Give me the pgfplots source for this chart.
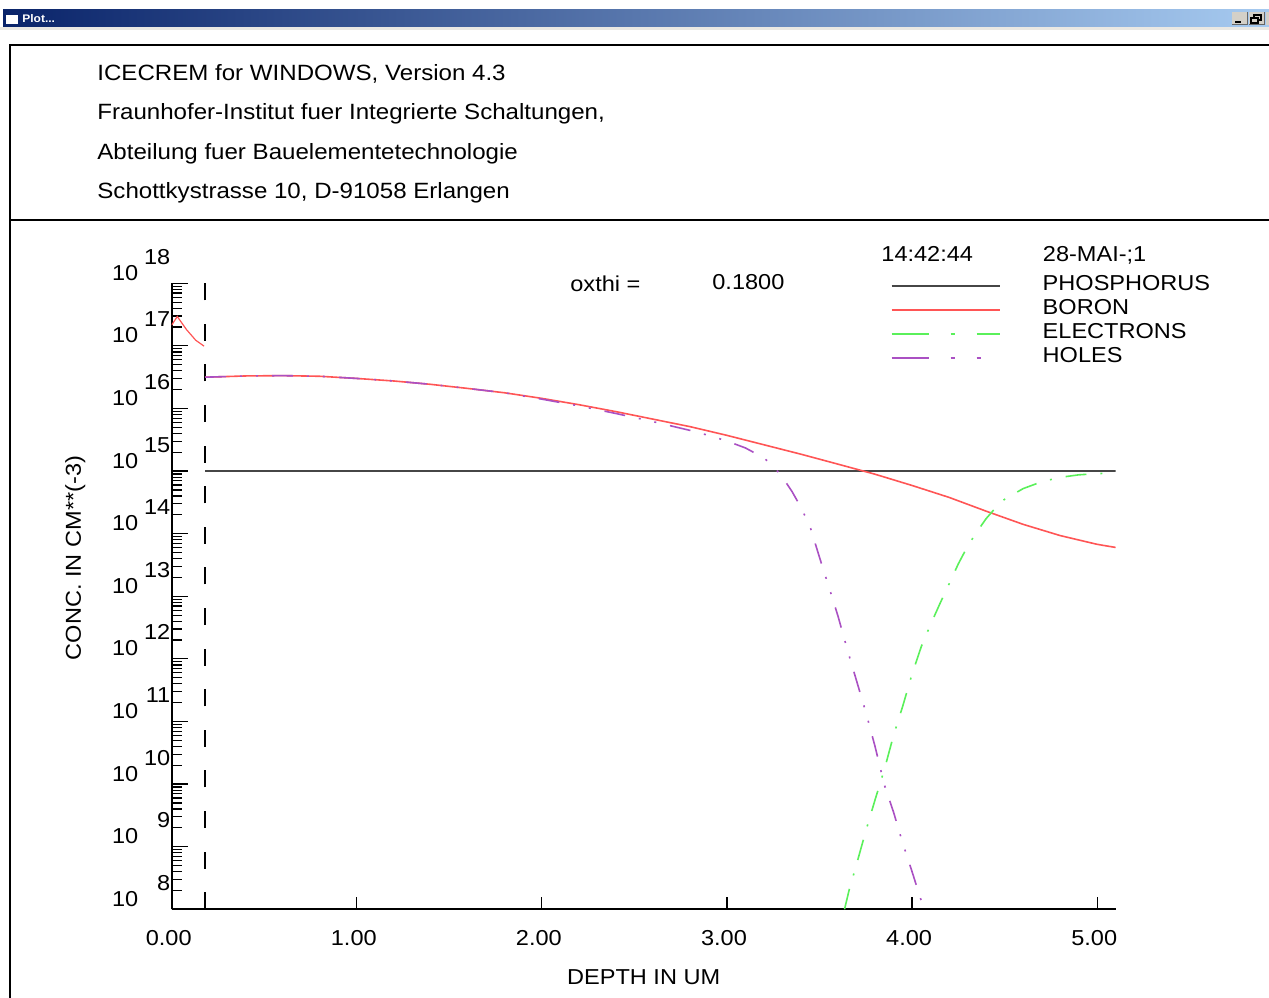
\documentclass[border=0pt]{standalone}
\usepackage{fontspec}
\setmainfont{Liberation Sans}[FakeStretch=1.09]
\usepackage{pgfplots}
\pgfplotsset{compat=1.18}
\definecolor{boron}{RGB}{255,85,85}
\definecolor{elec}{RGB}{90,240,90}
\definecolor{holes}{RGB}{170,80,195}
\definecolor{phos}{RGB}{70,70,70}
\definecolor{tbdark}{RGB}{10,36,106}
\definecolor{tblight}{RGB}{166,202,240}
\definecolor{btn}{RGB}{212,208,200}
\newcommand\fs{\fontsize{10.8}{13}\selectfont}
\newcommand\hfs{\fontsize{11.05}{13}\selectfont}
\newcommand\ylab[1]{10\makebox[16pt][r]{\raisebox{8pt}{#1}}}
\begin{document}
\begin{tikzpicture}[font=\fs]
\path[use as bounding box] (0,0) rectangle (634.5pt,498.5pt);
\begin{scope}[x=0.5pt,y=-0.5pt,shift={(0pt,498.5pt)}]
  % window title bar
  \shade[left color=tbdark,right color=tblight] (3,10) rectangle (1269,27);
  \fill[btn!50] (0,27) rectangle (1269,30);
  \fill[white] (6,13) rectangle (18,24);
  \fill[tbdark] (6,13) rectangle (18,15.5);
  \node[anchor=base west,inner sep=0pt,text=white,font=\fontsize{5.5}{6}\selectfont\bfseries] at (22,23) {Plot...};
  \fill[btn] (1232,12) rectangle (1247,25);
  \draw[black!60,line width=0.5pt] (1232,25) -- (1247,25) -- (1247,12);
  \draw[black,line width=1pt] (1235,22) -- (1241,22);
  \fill[btn] (1249,12) rectangle (1264,25);
  \draw[black!60,line width=0.5pt] (1249,25) -- (1264,25) -- (1264,12);
  \draw[black,line width=0.6pt] (1254,15) rectangle (1261,20);
  \fill[btn] (1251,18) rectangle (1258,23);
  \draw[black,line width=0.6pt] (1251,18) rectangle (1258,23);
  \fill[btn] (1266,12) rectangle (1269,25);
  % frame
  \draw[line width=0.75pt] (1270,45) -- (10,45) -- (10,998);
  \draw[line width=0.75pt] (10,220) -- (1270,220);
  % header
  \node[anchor=base west,inner sep=0pt,font=\hfs] at (97,81) {ICECREM for WINDOWS, Version 4.3};
  \node[anchor=base west,inner sep=0pt,font=\hfs] at (97,120) {Fraunhofer-Institut fuer Integrierte Schaltungen,};
  \node[anchor=base west,inner sep=0pt,font=\hfs] at (97,160) {Abteilung fuer Bauelementetechnologie};
  \node[anchor=base west,inner sep=0pt,font=\hfs] at (97,199) {Schottkystrasse 10, D-91058 Erlangen};
  % plot annotations
  \node[anchor=base west,inner sep=0pt] at (570,291.5) {oxthi =};
  \node[anchor=base west,inner sep=0pt] at (712,289.5) {0.1800};
  \node[anchor=base west,inner sep=0pt] at (881,261.5) {14:42:44};
  \node[anchor=base west,inner sep=0pt] at (1042.5,261.5) {28-MAI-;1};
\end{scope}
\begin{axis}[
  at={(85.85pt,43.85pt)}, anchor=south west,
  scale only axis, width=472pt, height=313pt,
  xmin=0, xmax=5.1, ymode=log, ymin=1e8, ymax=1e18,
  axis x line*=bottom, axis y line*=left,
  axis line style={-, line width=0.8pt, black},
  tick align=inside,
  major tick length=8.35pt, minor tick length=5pt,
  every tick/.style={black, line width=0.6pt},
  xtick={0,1,2,3,4,5},
  xticklabels={0.00,1.00,2.00,3.00,4.00,5.00},
  xtick style={/pgfplots/major tick length=6.35pt},
  extra x ticks={0.18}, extra x tick labels={},
  extra x tick style={major tick length=8.5pt, xtick style={/pgfplots/major tick length=8.5pt}},
  xticklabel style={font=\fs, anchor=base, inner sep=0pt, yshift=-18.1pt, xshift=-1.5pt},
  ytick={1e8,1e9,1e10,1e11,1e12,1e13,1e14,1e15,1e16,1e17,1e18},
  yticklabels={\ylab{8},\ylab{9},\ylab{10},\ylab{11},\ylab{12},\ylab{13},\ylab{14},\ylab{15},\ylab{16},\ylab{17},\ylab{18}},
  minor ytick={2e8,3e8,4e8,5e8,6e8,7e8,8e8,9e8,
    2e9,3e9,4e9,5e9,6e9,7e9,8e9,9e9,
    2e10,3e10,4e10,5e10,6e10,7e10,8e10,9e10,
    2e11,3e11,4e11,5e11,6e11,7e11,8e11,9e11,
    2e12,3e12,4e12,5e12,6e12,7e12,8e12,9e12,
    2e13,3e13,4e13,5e13,6e13,7e13,8e13,9e13,
    2e14,3e14,4e14,5e14,6e14,7e14,8e14,9e14,
    2e15,3e15,4e15,5e15,6e15,7e15,8e15,9e15,
    2e16,3e16,4e16,5e16,6e16,7e16,8e16,9e16,
    2e17,3e17,4e17,5e17,6e17,7e17,8e17,9e17},
  yticklabel style={font=\fs, anchor=base east, inner sep=0pt, xshift=-0.5pt, yshift=1.5pt},
  xlabel={DEPTH IN UM},
  ylabel={CONC. IN CM**(-3)},
  every axis x label/.style={at={(axis description cs:0.5,0)}, anchor=base, yshift=-37.85pt, font=\fs, inner sep=0pt},
  every axis y label/.style={at={(axis description cs:-0.0961,0.5612)}, rotate=90, anchor=base, font=\fs, inner sep=0pt},
  legend style={at={(axis description cs:0.7617,1.0121)}, anchor=north west, draw=none, fill=none,
    inner sep=0pt, outer sep=0pt, column sep=21pt, row sep={11.93pt,between origins},
    nodes={inner sep=0pt, outer sep=0pt, anchor=base west}, font=\fs},
]
% oxide boundary
\addplot[black, line width=0.6pt, dash pattern=on 8.5pt off 11.8pt, forget plot]
  coordinates {(0.18,1e8) (0.18,1e18)};
% phosphorus
\addplot[phos, line width=1pt,
  legend image code/.code={\draw[phos,line width=1pt] (0pt,2.25pt) -- (54pt,2.25pt);}]
  coordinates {(0.18,1e15) (5.1,1e15)};
\addlegendentry{PHOSPHORUS}
% boron in silicon
\addplot[boron, line width=0.8pt,
  legend image code/.code={\draw[boron,line width=0.8pt] (0pt,2.25pt) -- (54pt,2.25pt);}]
  coordinates {
  (0.18,3.16e16) (0.4,3.31e16) (0.6,3.35e16) (0.8,3.27e16) (1.0,3.02e16)
  (1.2,2.75e16) (1.4,2.43e16) (1.6,2.09e16) (1.8,1.78e16) (2.0,1.45e16)
  (2.2,1.15e16) (2.4,8.91e15) (2.6,6.76e15) (2.8,5.13e15) (3.0,3.72e15)
  (3.2,2.63e15) (3.4,1.86e15) (3.6,1.29e15) (3.8,8.91e14) (4.0,5.89e14)
  (4.2,3.80e14) (4.4,2.29e14) (4.6,1.41e14) (4.8,9.33e13) (5.0,6.76e13)
  (5.1,6.03e13)};
\addlegendentry{BORON}
% electrons
\addplot[elec, line width=0.8pt, dash pattern=on 10.5pt off 7pt on 1pt off 7pt,
  legend image code/.code={\draw[elec,line width=0.8pt,dash pattern=on 18.5pt off 11pt on 2pt off 11pt] (0pt,2.25pt) -- (54pt,2.25pt);}]
  coordinates {
  (3.635,1e8) (3.66,2.04e8) (3.70,5.25e8) (3.75,1.78e9) (3.80,5.62e9)
  (3.85,1.70e10) (3.90,6.03e10) (3.95,1.78e11) (4.00,5.75e11) (4.05,1.58e12)
  (4.10,3.55e12) (4.15,7.59e12) (4.20,1.58e13) (4.25,3.31e13) (4.30,6.31e13)
  (4.35,1.07e14) (4.40,1.74e14) (4.45,2.57e14) (4.50,3.55e14) (4.60,5.25e14)
  (4.70,6.76e14) (4.80,7.94e14) (4.90,8.71e14) (5.00,9.12e14) (5.10,9.33e14)};
\addlegendentry{ELECTRONS}
% holes
\addplot[holes, line width=0.8pt, dash pattern=on 10.5pt off 7pt on 1pt off 7pt on 1pt off 7pt,
  legend image code/.code={\draw[holes,line width=0.8pt,dash pattern=on 18.5pt off 11pt on 2pt off 11pt on 2pt off 11pt] (0pt,2.25pt) -- (54pt,2.25pt);}]
  coordinates {
  (0.18,3.16e16) (0.4,3.31e16) (0.6,3.35e16) (0.8,3.27e16) (1.0,3.02e16)
  (1.2,2.75e16) (1.4,2.43e16) (1.6,2.09e16) (1.8,1.78e16) (2.0,1.41e16)
  (2.2,1.10e16) (2.4,8.32e15) (2.6,6.17e15) (2.8,4.47e15) (2.9,3.72e15)
  (3.0,3.02e15) (3.1,2.34e15) (3.2,1.62e15) (3.25,1.20e15) (3.3,7.94e14)
  (3.35,4.79e14) (3.4,2.63e14) (3.45,1.26e14) (3.5,4.17e13) (3.56,1.15e13)
  (3.6,4.79e12) (3.65,1.41e12) (3.7,4.47e11) (3.75,1.41e11) (3.8,3.98e10)
  (3.85,9.77e9) (3.9,3.55e9) (3.95,1.12e9) (4.0,3.98e8) (4.064,1e8)};
\addlegendentry{HOLES}
% boron in the oxide
\addplot[boron, line width=0.6pt, forget plot]
  coordinates {(0,2.15e17) (0.03,2.95e17) (0.08,1.82e17) (0.13,1.23e17) (0.175,9.9e16)};
\end{axis}
\end{tikzpicture}
\end{document}
